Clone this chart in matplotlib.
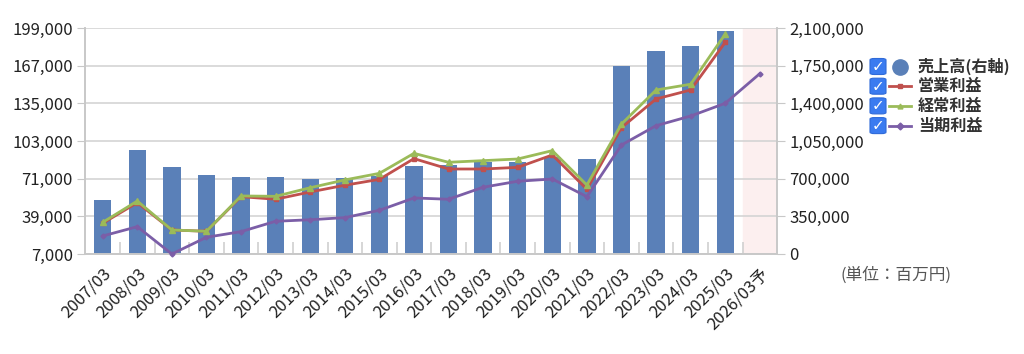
import numpy as np
import matplotlib
matplotlib.use("Agg")
import matplotlib.pyplot as plt
from matplotlib.patches import FancyBboxPatch
from matplotlib.lines import Line2D

plt.rcParams['font.family'] = ['Noto Sans CJK JP', 'DejaVu Sans']

# data (百万円)
years = ["2007/03", "2008/03", "2009/03", "2010/03", "2011/03", "2012/03",
         "2013/03", "2014/03", "2015/03", "2016/03", "2017/03", "2018/03",
         "2019/03", "2020/03", "2021/03", "2022/03", "2023/03", "2024/03",
         "2025/03", "2026/03予"]
sales = [502000, 966000, 805000, 731000, 715000, 715000, 694000, 703000,
         727000, 818000, 830000, 855000, 855000, 904000, 880000, 1744000,
         1883000, 1933000, 2072000, np.nan]
operating = [33100, 50600, 27400, 26300, 55700, 53500, 59700, 65400, 70400,
             88000, 79200, 79200, 80600, 91100, 62000, 114300, 138700,
             146300, 186800, np.nan]
ordinary = [33900, 52000, 27400, 26300, 56300, 56000, 63300, 69900, 75500,
            92500, 84900, 86300, 87700, 94800, 65600, 117400, 146300,
            151200, 193900, np.nan]
net = [22300, 30200, 7000, 21200, 26000, 34800, 36100, 37900, 44100, 54600,
       53500, 63700, 68800, 70700, 55700, 99600, 116000, 124200, 135000,
       160200]

left_ticks = [7000, 39000, 71000, 103000, 135000, 167000, 199000]
right_ticks = [0, 350000, 700000, 1050000, 1400000, 1750000, 2100000]

c_bar = "#5a80b8"
c_op = "#c0504d"
c_ord = "#9bbb59"
c_net = "#7b5ea7"
grid_c = "#d4d4d4"

fig = plt.figure(figsize=(10.24, 3.54), dpi=100)
ax = fig.add_axes([0.0834, 0.2825, 0.6755, 0.6385])
x = np.arange(len(years))

ax.axvspan(len(years) - 1.5, len(years) - 0.5, color="#fcefef", zorder=0)
ax.bar(x, sales, width=0.5, color=c_bar, zorder=2)
ax.set_ylim(0, 2100000)
ax.set_xlim(-0.5, len(years) - 0.5)
ax.set_yticks(right_ticks)
ax.set_yticklabels([f"{v:,}" for v in right_ticks])
ax.grid(axis="y", color=grid_c, linewidth=1.2, zorder=1)
ax.set_axisbelow(True)

ax2 = ax.twinx()
ax2.plot(x, operating, color=c_op, linewidth=2, marker="s", markersize=3.5,
         clip_on=False, zorder=3)
ax2.plot(x, ordinary, color=c_ord, linewidth=2, marker="^", markersize=5,
         clip_on=False, zorder=4)
ax2.plot(x, net, color=c_net, linewidth=2, marker="D", markersize=2.5,
         clip_on=False, zorder=3)
ax2.set_ylim(7000, 199000)
ax2.set_yticks(left_ticks)
ax2.set_yticklabels([f"{v:,}" for v in left_ticks])

# bars on the right scale, lines on the left scale
ax.yaxis.tick_right()
ax2.yaxis.tick_left()

for a in (ax, ax2):
    a.spines["top"].set_visible(False)
    for s in ("left", "right", "bottom"):
        a.spines[s].set_color("#c8c8c8")
        a.spines[s].set_linewidth(1.2)
    a.tick_params(axis="y", length=6, color="#c8c8c8", labelsize=12,
                  labelcolor="#222222", pad=3)

ax.set_xticks(x)
ax.set_xticklabels(years, rotation=45, ha="right", rotation_mode="anchor",
                   fontsize=12, color="#222222")
ax.tick_params(axis="x", length=0, pad=8)
ax.set_xticks(x[:-1] + 0.5, minor=True)
ax.tick_params(axis="x", which="minor", direction="in", length=9,
               color="#d0d0d0", width=1.2)
ax2.tick_params(axis="x", which="both", length=0)

# legend with checkboxes
rows = [("売上高(右軸)", c_bar, "o"), ("営業利益", c_op, "s"),
        ("経常利益", c_ord, "^"), ("当期利益", c_net, "D")]
W, H = 1024, 354
for i, (label, col, mk) in enumerate(rows):
    yc = 66.5 + 19.7 * i
    fy = 1 - yc / H
    box = FancyBboxPatch((870 / W, fy - 8 / H), 16 / W, 16 / H,
                         boxstyle="round,pad=0,rounding_size=0.004",
                         transform=fig.transFigure, facecolor="#3a7bf0",
                         edgecolor="#2f6ad8", linewidth=0.8)
    fig.patches.append(box)
    fig.text(878 / W, fy, "✓", color="white", fontsize=11, fontweight="bold",
             ha="center", va="center", family="DejaVu Sans")
    if i == 0:
        fig.lines.append(Line2D([900 / W], [fy], marker="o", markersize=11,
                                color=col, transform=fig.transFigure))
    else:
        fig.lines.append(Line2D([889 / W, 911 / W], [fy, fy], color=col,
                                linewidth=2, transform=fig.transFigure))
        fig.lines.append(Line2D([900 / W], [fy], color=col, marker=mk,
                                markersize=3.5, transform=fig.transFigure))
    fig.text(918 / W, fy, label, fontsize=11.6, fontweight="bold",
             color="#333333", ha="left", va="center")

fig.text(896 / W, 1 - 275 / H, "(単位：百万円)", fontsize=12,
         color="#555555", ha="center", va="center")

fig.savefig("out.png", dpi=100)
